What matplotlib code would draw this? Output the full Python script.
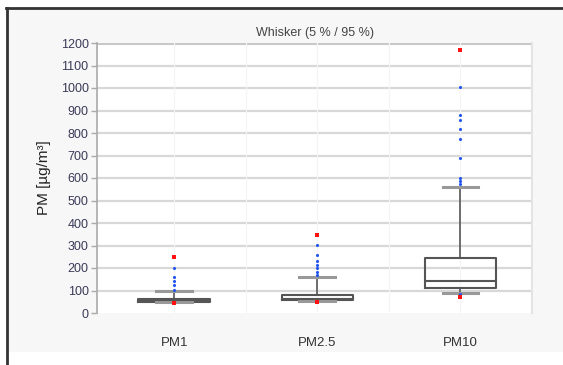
import matplotlib.pyplot as plt
from matplotlib.patches import Rectangle
from matplotlib.lines import Line2D

plt.rcParams['font.family'] = ['Liberation Sans', 'DejaVu Sans']

# box statistics per fraction (µg/m³)
labels = ['PM1', 'PM2.5', 'PM10']
whisker_low = [48, 55, 88]
q1 = [50, 58, 110]
median = [56, 63, 142]
q3 = [64, 80, 245]
whisker_high = [98, 159, 561]

# single values beyond the whiskers
outliers = [
    [103, 125, 144, 159, 200],
    [170, 184, 200, 214, 229, 256, 304],
    [85, 575, 586, 601, 688, 772, 817, 858, 881, 1003],
]
minimum = [46, 50, 70]
maximum = [251, 345, 1171]

fig = plt.figure(figsize=(5.63, 3.65), dpi=100)
fig.patch.set_facecolor('white')

# panel background and frame, kept behind the axes
fig.patches.append(Rectangle((7 / 563, 1 - 352 / 365), 556 / 563, 344 / 365,
                             transform=fig.transFigure, facecolor='#f7f7f7',
                             edgecolor='none', zorder=-10))
fig.lines.append(Line2D([7 / 563, 7 / 563], [0, 1 - 8 / 365],
                        transform=fig.transFigure, color='#333333', lw=2,
                        zorder=-5))
fig.lines.append(Line2D([6 / 563, 1], [1 - 8 / 365, 1 - 8 / 365],
                        transform=fig.transFigure, color='#333333', lw=2,
                        zorder=-5))

ax = fig.add_axes([97 / 563, 1 - 313 / 365, 435 / 563, 270 / 365])
ax.set_facecolor('white')

stats = []
for i, name in enumerate(labels):
    stats.append({'label': name, 'whislo': whisker_low[i], 'q1': q1[i],
                  'med': median[i], 'q3': q3[i], 'whishi': whisker_high[i]})

positions = [1, 2, 3]
ax.bxp(stats, positions=positions, widths=0.5, showfliers=False,
       boxprops=dict(color='#555555', lw=1.5),
       medianprops=dict(color='#555555', lw=1.5),
       whiskerprops=dict(color='#555555', lw=1.2),
       capprops=dict(color='#999999', lw=2.2), capwidths=0.25,
       zorder=3)

for pos, vals in zip(positions, outliers):
    ax.scatter([pos] * len(vals), vals, s=5, color='#2255ee', zorder=4,
               linewidths=0)
ax.scatter(positions, minimum, s=12, marker='s', color='#ff1111', zorder=5,
           linewidths=0)
ax.scatter(positions, maximum, s=12, marker='s', color='#ff1111', zorder=5,
           linewidths=0)

ax.set_xlim(0.46, 3.5)
ax.set_ylim(0, 1200)
ax.set_yticks(range(0, 1201, 100))
ax.set_xticks(positions)
ax.set_xticklabels(labels)

for y in range(100, 1200, 100):
    ax.axhline(y, color='#d8d8d8', lw=1.6, zorder=1)
# top border line is a bit heavier than the grid
ax.axhline(1200, color='#c8c8c8', lw=2.2, zorder=1)
for x in [1, 1.5, 2, 2.5, 3]:
    ax.axvline(x, color='#f4f4f4', lw=0.8, zorder=1)

for side in ['top', 'bottom']:
    ax.spines[side].set_visible(False)
ax.spines['right'].set_color('#e4e4e4')
ax.spines['right'].set_linewidth(1.5)
ax.spines['left'].set_color('#aaaaaa')
ax.spines['left'].set_linewidth(1.2)

ax.tick_params(axis='y', length=4, width=1, color='#aaaaaa', pad=2,
               labelsize=9, labelcolor='#3a3a58')
ax.tick_params(axis='x', length=0, pad=17, labelsize=9.5, labelcolor='#333333')

ax.set_ylabel('PM [µg/m³]', fontsize=11, color='#222222', labelpad=7)
ax.set_title('Whisker (5 % / 95 %)', fontsize=9, color='#444444', pad=5)

fig.savefig('out.png', dpi=100)
